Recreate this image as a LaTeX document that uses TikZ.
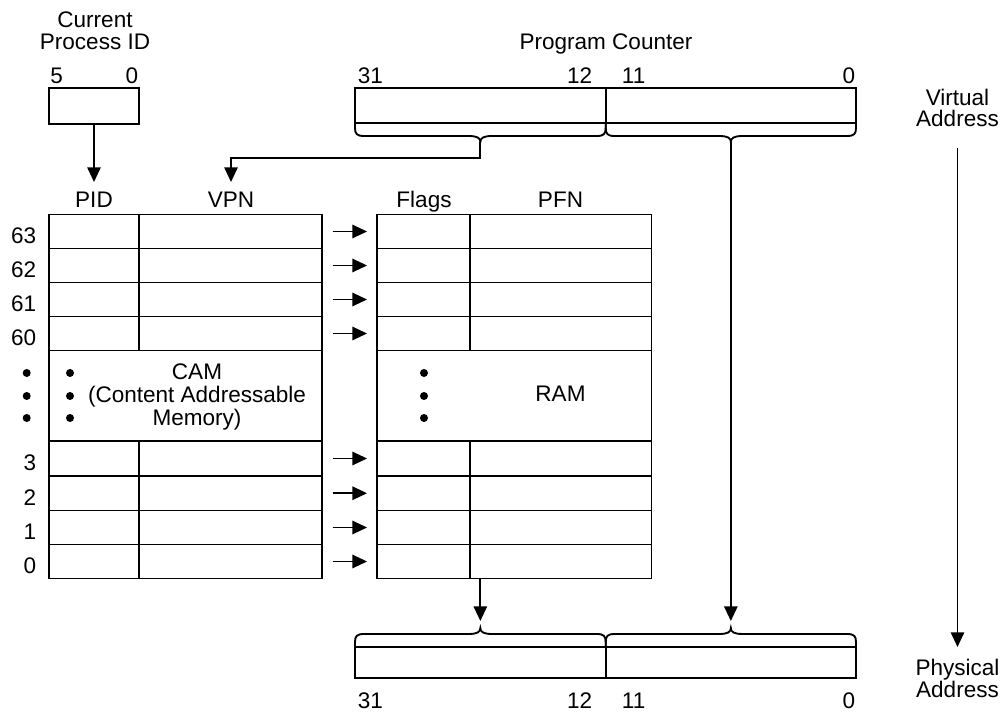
\documentclass[tikz,border=0pt]{standalone}
\usepackage{fontspec}
\setmainfont{Liberation Sans}
\usetikzlibrary{arrows.meta,fit,calc}
\newcommand\MyBrace[4]{%
 \pgfmathsetmacro\bxm{(#1+#2)/2}%
 \pgfmathsetmacro\bya{#3+5*(#4)}%
 \pgfmathsetmacro\byb{#3+11*(#4)}%
 \pgfmathsetmacro\byc{#3+13*(#4)}%
 \pgfmathsetmacro\byd{#3+15*(#4)}%
 \pgfmathsetmacro\byt{#3+19*(#4)}%
 \draw (#1,#3) -- (#1,\bya) .. controls (#1,\byb) and ({#1+2},\byc) .. ({#1+9},\byc) -- ({\bxm-12},\byc) .. controls ({\bxm-3},\byc) and (\bxm,\byd) .. (\bxm,\byt) .. controls (\bxm,\byd) and ({\bxm+3},\byc) .. ({\bxm+12},\byc) -- ({#2-9},\byc) .. controls ({#2-2},\byc) and (#2,\byb) .. (#2,\bya) -- (#2,#3);%
}
\begin{document}
\begin{tikzpicture}[x=0.75pt,y=-0.75pt,line width=1.4pt,
  every node/.style={inner sep=0pt,font=\fontsize{16.9pt}{18pt}\selectfont},
  cell/.style={draw,rectangle},
  arr/.style={-{Triangle[length=11pt,width=10pt]}},
  lbl/.style={anchor=base},
  lblw/.style={anchor=base west},
  lble/.style={anchor=base east}]
\path[use as bounding box] (0,0) rectangle (1001,712);

% Current process ID
\node[lbl] (cur1) at (95,27.3) {Current};
\node[lbl] (cur2) at (95,50) {Process ID};
\node[cell,fit={(49,88) (139,124)}] (cpid) {};
\node[lblw] (c5) at (49.5,83.3) {5};
\node[lble] (c0) at (139,83.3) {0};
\coordinate (pidin) at (94,182);
\draw[arr] (cpid.south) -- (pidin);

% Program counter
\node[lbl] (pctitle) at (606,50) {Program Counter};
\node[cell,fit={(355,88) (605.7,123)}] (pcl) {};
\node[cell,fit={(605.7,88) (856,123)}] (pcr) {};
\node[lblw] (pc31) at (357,84) {31};
\node[lble] (pc12) at (593,84) {12};
\node[lblw] (pc11) at (621,84) {11};
\node[lble] (pc0) at (856,84) {0};
\MyBrace{355}{605.7}{123}{1}
\MyBrace{605.7}{856}{123}{1}
\coordinate (tipL) at (480.35,142);
\coordinate (tipR) at (730.85,142);
\coordinate (bend) at (231,158);
\coordinate (vpnin) at (231,182);
\draw[arr] (tipL) |- (bend) -- (vpnin);

% Virtual / Physical address
\node[lbl] (va1) at (957.5,106) {Virtual};
\node[lbl] (va2) at (957.5,127) {Address};
\node[lbl] (pa1) at (957.5,676) {Physical};
\node[lbl] (pa2) at (957.5,698) {Address};
\coordinate (vtop) at (957.5,148);
\coordinate (vbot) at (957.5,647);
\draw[arr] (vtop) -- (vbot);

% Headers
\node[lbl] (hpid) at (94,208) {PID};
\node[lbl] (hvpn) at (231,208) {VPN};
\node[lbl] (hflg) at (424,208) {Flags};
\node[lbl] (hpfn) at (560.5,208) {PFN};

% Table rows
\foreach \n/\t/\b in {63/214.5/248.5, 62/248.5/282.5, 61/282.5/316.5, 60/316.5/350.5, 3/441/476, 2/476/510.5, 1/510.5/544.5, 0/544.5/578.5} {
  \node[cell,fit={(49,\t) (139,\b)}] (pid\n) {};
  \node[cell,fit={(139,\t) (321.7,\b)}] (vpn\n) {};
  \node[cell,fit={(377,\t) (470,\b)}] (flg\n) {};
  \node[cell,fit={(470,\t) (651.5,\b)}] (pfn\n) {};
  \node[lble] (idx\n) at (37,{(\t+\b)/2+12}) {\n};
  \draw[arr,shorten <=7.5pt,shorten >=6.75pt] (vpn\n.east) -- (flg\n.west);
}

% Middle sections
\node[cell,fit={(49,350.5) (321.7,441)}] (cam) {};
\node[cell,fit={(377,350.5) (651.5,441)}] (ram) {};
\node[lbl] (cam1) at (197,380) {CAM};
\node[lbl] (cam2) at (197,403) {(Content Addressable};
\node[lbl] (cam3) at (197,426) {Memory)};
\node[lbl] (ramt) at (560.5,402) {RAM};
\foreach \yy in {373,396,418} {
  \fill (26.7,\yy) circle[radius=3pt];
  \fill (70,\yy) circle[radius=3pt];
  \fill (424,\yy) circle[radius=3pt];
}

% Physical address register
\node[cell,fit={(355,647) (605.7,678.3)}] (ppl) {};
\node[cell,fit={(605.7,647) (856,678.3)}] (ppr) {};
\MyBrace{355}{605.7}{647}{-1}
\MyBrace{605.7}{856}{647}{-1}
\coordinate (blin) at (480.35,621);
\coordinate (brin) at (730.85,621);
\draw[arr] (pfn0.south -| blin) -- (blin);
\draw[arr] (tipR) -- (brin);
\node[lblw] (pp31) at (357,709) {31};
\node[lble] (pp12) at (593,709) {12};
\node[lblw] (pp11) at (621,709) {11};
\node[lble] (pp0) at (856,709) {0};
\end{tikzpicture}
\end{document}
